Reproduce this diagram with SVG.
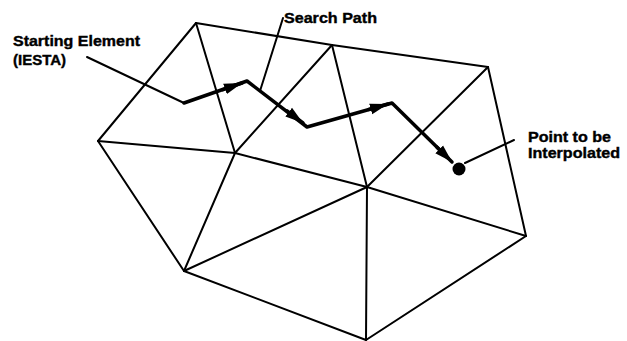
<svg xmlns="http://www.w3.org/2000/svg" width="627" height="341" viewBox="0 0 627 341">
<style>
.edge{stroke:#000;stroke-width:2;fill:none;stroke-linecap:round;stroke-linejoin:round}
.lead{stroke:#000;stroke-width:2;fill:none;stroke-linecap:round}
.path{stroke:#000;stroke-width:3.5;fill:none;stroke-linejoin:round;stroke-linecap:round}
.lbl{font-family:"Liberation Sans",Arial,sans-serif;font-weight:bold;font-size:15px;fill:#000;stroke:#000;stroke-width:0.4}
</style>
<defs>
<marker id="ah" markerUnits="userSpaceOnUse" markerWidth="20" markerHeight="12" refX="18" refY="6" orient="auto">
<path d="M0,0.5 L18,6 L0,11.5 z" fill="#000"/>
</marker>
</defs>
<rect width="627" height="341" fill="#fff"/>
<g id="mesh">
<line class="edge" x1="196" y1="23" x2="332" y2="45"/>
<line class="edge" x1="332" y1="45" x2="488" y2="67"/>
<line class="edge" x1="196" y1="23" x2="98" y2="141"/>
<line class="edge" x1="196" y1="23" x2="235" y2="153"/>
<line class="edge" x1="235" y1="153" x2="332" y2="45"/>
<line class="edge" x1="332" y1="45" x2="367" y2="187"/>
<line class="edge" x1="367" y1="187" x2="488" y2="67"/>
<line class="edge" x1="488" y1="67" x2="526" y2="236"/>
<line class="edge" x1="98" y1="141" x2="235" y2="153"/>
<line class="edge" x1="235" y1="153" x2="367" y2="187"/>
<line class="edge" x1="367" y1="187" x2="526" y2="236"/>
<line class="edge" x1="98" y1="141" x2="184" y2="271"/>
<line class="edge" x1="235" y1="153" x2="184" y2="271"/>
<line class="edge" x1="184" y1="271" x2="367" y2="187"/>
<line class="edge" x1="184" y1="271" x2="366" y2="340"/>
<line class="edge" x1="367" y1="187" x2="366" y2="340"/>
<line class="edge" x1="526" y1="236" x2="366" y2="340"/>
</g>
<g id="search-path">
<polyline class="path" points="184,103 247,81 307,127 392,103 448,158"/>
<line class="path" x1="223" y1="89.6" x2="242" y2="83" marker-end="url(#ah)"/>
<line class="path" x1="287" y1="110.8" x2="303" y2="123" marker-end="url(#ah)"/>
<line class="path" x1="369" y1="109.4" x2="388" y2="104" marker-end="url(#ah)"/>
<line class="path" x1="437" y1="147.2" x2="452" y2="162" marker-end="url(#ah)"/>
</g>
<g id="point">
<circle cx="459" cy="169" r="6.5" fill="#000"/>
</g>
<g id="leaders">
<line class="lead" x1="87" y1="57" x2="184" y2="103"/>
<line class="lead" x1="283" y1="18" x2="260" y2="91"/>
<line class="lead" x1="465" y1="163" x2="514" y2="140"/>
</g>
<g id="label-start">
<text class="lbl" x="13" y="46" textLength="127" lengthAdjust="spacingAndGlyphs">Starting Element</text>
<text class="lbl" x="13" y="65">(IESTA)</text>
</g>
<g id="label-search">
<text class="lbl" x="284" y="23" textLength="93" lengthAdjust="spacingAndGlyphs">Search Path</text>
</g>
<g id="label-point">
<text class="lbl" x="528" y="142" textLength="83" lengthAdjust="spacingAndGlyphs">Point to be</text>
<text class="lbl" x="528" y="157.5" textLength="92" lengthAdjust="spacingAndGlyphs">Interpolated</text>
</g>
</svg>
